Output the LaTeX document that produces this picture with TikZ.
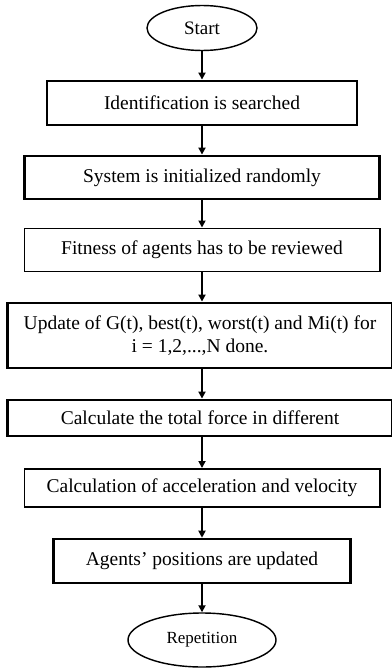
\documentclass[tikz,border=0pt]{standalone}
\usepackage{fontspec}
\setmainfont{Liberation Serif}
\usetikzlibrary{arrows.meta,shapes.geometric}
\tikzset{
	stepbox/.style={draw, rectangle, inner sep=0pt, align=center, font=\fontsize{19.5}{23}\selectfont},
	term/.style={draw, ellipse, inner sep=0pt, line width=0.5mm, font=\fontsize{17}{20}\selectfont},
	flow/.style={line width=0.6mm, -{Triangle[width=7pt,length=7pt]}},
}

\begin{document}
\begin{tikzpicture}[x=1pt,y=-1pt]
		%%%%% START %%%%%
		\useasboundingbox (0, 0) rectangle (391, 669);
		
		\node[term, minimum width=110, minimum height=45, font=\fontsize{19}{22}\selectfont] (start) at (202, 28) {Start};
		
		\node[stepbox, line width=1.0mm, minimum width=310, minimum height=44] (ident) at (202, 103) {Identification is searched};
		\node[stepbox, line width=1.0mm, minimum width=355, minimum height=43] (init) at (202, 177.5) {System is initialized randomly};
		\node[stepbox, line width=0.7mm, minimum width=355, minimum height=43] (fit) at (202, 250) {Fitness of agents has to be reviewed};
		
		\node[stepbox, line width=1.0mm, minimum width=385, minimum height=65] (upd) at (200, 335.5) {Update of G(t), best(t), worst(t) and Mi(t) for\\ i = 1,2,...,N done.};
		
		\node[stepbox, line width=1.0mm, minimum width=385, minimum height=36] (force) at (200, 418) {Calculate the total force in different};
		\node[stepbox, line width=0.7mm, minimum width=355, minimum height=38] (acc) at (202, 488) {Calculation of acceleration and velocity};
		\node[stepbox, line width=0.9mm, minimum width=297, minimum height=44] (pos) at (202, 561) {Agents’ positions are updated};
		
		\node[term, minimum width=148, minimum height=54] (rep) at (202, 640) {Repetition};
		
		\draw[flow] (start) -- (ident);
		\draw[flow] (ident) -- (init);
		\draw[flow] (init) -- (fit);
		\draw[flow] (fit) -- (upd.north -| fit.south);
		\draw[flow] (upd.south -| fit.south) -- (force.north -| fit.south);
		\draw[flow] (force.south -| fit.south) -- (acc);
		\draw[flow] (acc) -- (pos);
		\draw[flow] (pos) -- (rep);
		
		%%%%% END %%%%%
\end{tikzpicture}
\end{document}
